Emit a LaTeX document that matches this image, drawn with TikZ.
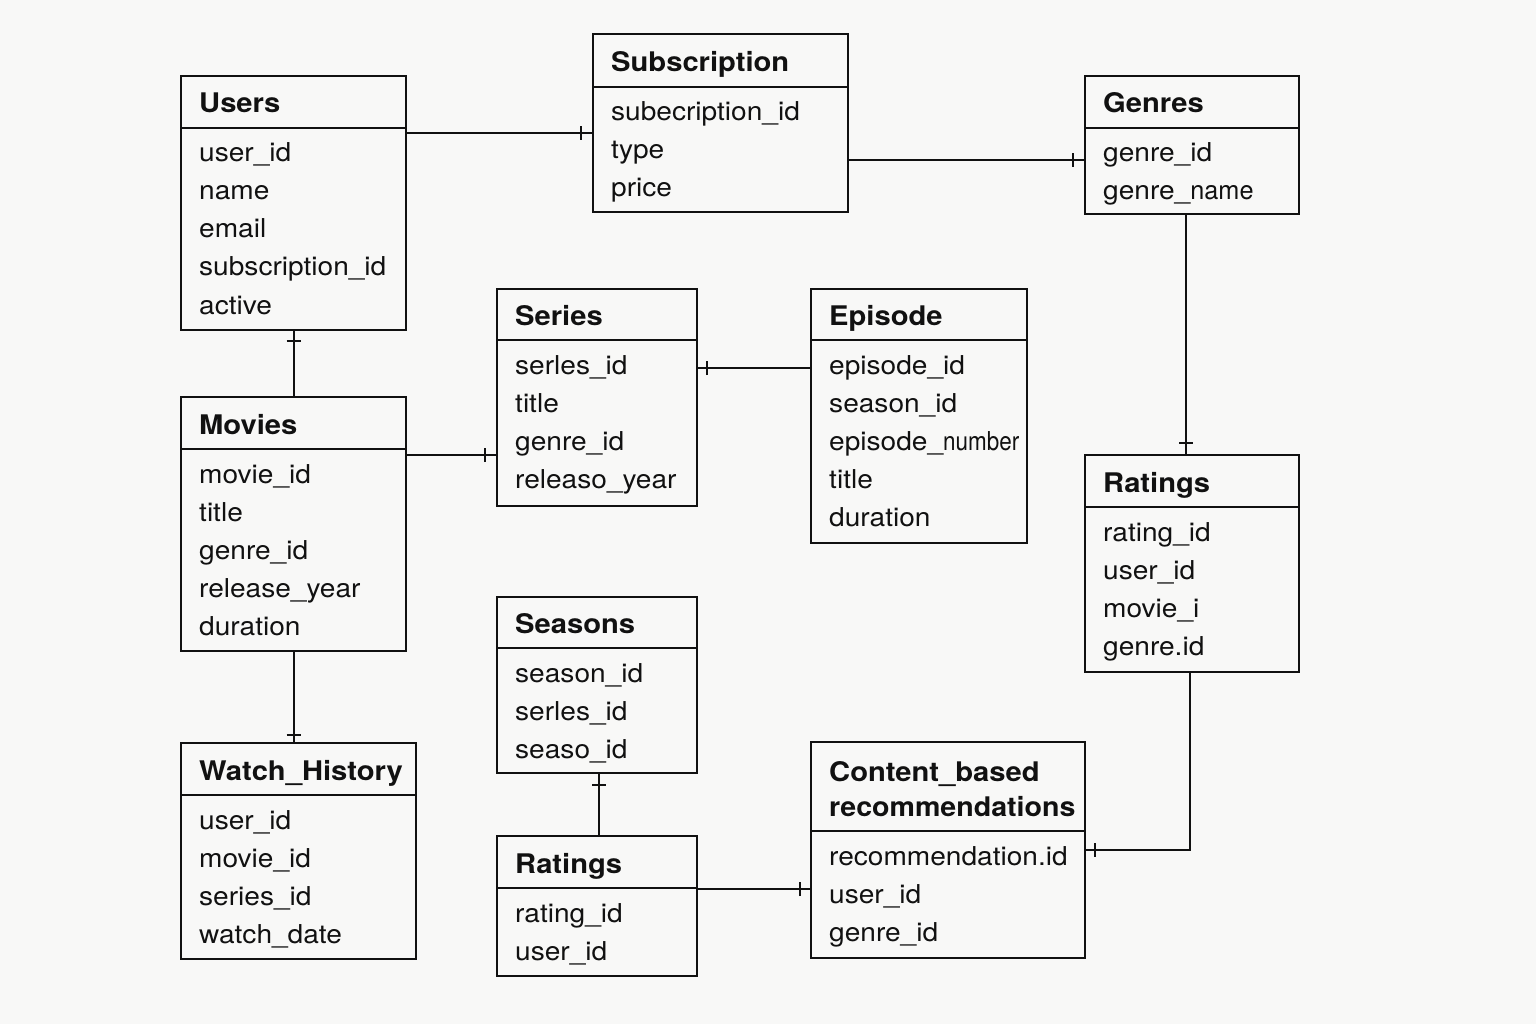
\documentclass[tikz,border=0pt]{standalone}
\usepackage{fontspec}
\setmainfont{TeX Gyre Heros}[FakeStretch=1.08]
\usetikzlibrary{decorations.markings,calc}
\definecolor{bgc}{HTML}{F8F8F7}
\definecolor{ink}{HTML}{111111}
\tikzset{
  box/.style={draw=ink, line width=2.4pt, outer sep=0pt, inner sep=0pt, anchor=north west},
  sep/.style={draw=ink, line width=2.2pt},
  ttl/.style={anchor=base west, inner sep=0pt, font=\fontsize{27}{30}\selectfont\bfseries, text=ink},
  fld/.style={anchor=base west, inner sep=0pt, font=\fontsize{26}{30}\selectfont, text=ink},
  conn/.style={draw=ink, line width=2pt},
  tk/.style={postaction={decorate,decoration={markings,mark=at position #1 with {\draw[line width=1.8pt,draw=ink] (0,-7pt) -- (0,7pt);}}}}
}
% \erbox{name}{x1}{y1}{x2}{y2}{divider y}{title}{fields}
\newcommand\erbox[8]{%
  \node[box, minimum width={(#4-#2)*1pt}, minimum height={(#5-#3)*1pt}] (#1) at (#2,#3) {};
  \draw[sep] (#2,#6) -- (#4,#6);
  \node[ttl] (#1-t) at (#2+18,#6-15) {#7};
  \foreach \f [count=\i] in {#8} {
    \node[fld] (#1-f\i) at (#2+18,#6+34+38*\i-38) {\f};
  }
}
\begin{document}
\begin{tikzpicture}[x=1pt,y=-1pt]
\fill[bgc] (0,0) rectangle (1536,1024);
\useasboundingbox (0,0) rectangle (1536,1024);

\erbox{users}{181}{76}{406}{330}{128}{Users}{user\_id,name,email,subscription\_id,active}
\erbox{subs}{593}{34}{848}{212}{87}{Subscription}{subecription\_id,type,price}
\erbox{genres}{1085}{76}{1299}{214}{128}{Genres}{genre\_id,genre\_{\scalebox{0.9}[1]{name}}}
\erbox{series}{497}{289}{697}{506}{340}{Series}{serles\_id,title,genre\_id,releaso\_year}
\erbox{episode}{811}{289}{1027}{543}{340}{Episode}{episode\_id,season\_id,episode\_{\scalebox{0.8}[1]{number}},title,duration}
\erbox{movies}{181}{397}{406}{651}{449}{Movies}{movie\_id,title,genre\_id,release\_year,duration}
\erbox{ratr}{1085}{455}{1299}{672}{507}{Ratings}{rating\_id,user\_id,movie\_i,genre.id}
\erbox{seasons}{497}{597}{697}{773}{648}{Seasons}{season\_id,serles\_id,seaso\_id}
\erbox{watch}{181}{743}{416}{959}{795}{Watch\_History}{user\_id,movie\_id,series\_id,watch\_date}
\erbox{ratb}{497}{836}{697}{976}{888}{Ratings}{rating\_id,user\_id}
\erbox{content}{811}{742}{1085}{958}{831}{\scalebox{0.98}[1]{recommendations}}{recommendation.id,user\_id,genre\_id}
\node[ttl] (content-t0) at (829,781) {Content\_based};

% connectors
\draw[conn, tk=-12pt] (users.north east) ++(0,57) coordinate (c1) -- (c1 -| subs.west);
\draw[conn, tk=-12pt] (subs.north east) ++(0,126) coordinate (c2) -- (c2 -| genres.west);
\draw[conn, tk=-12pt] (genres.south) ++(-6,0) coordinate (c3) -- (c3 |- ratr.north);
\draw[conn, tk=11pt] (users.south) -- (movies.north);
\draw[conn, tk=-12pt] (movies.north east) ++(0,58) coordinate (c5) -- (c5 -| series.west);
\draw[conn, tk=10pt] (series.north east) ++(0,79) coordinate (c6) -- (c6 -| episode.west);
\draw[conn, tk=-8pt] (movies.south) -- (movies.south |- watch.north);
\draw[conn, tk=12pt] (seasons.south) ++(2,0) coordinate (c8) -- (c8 |- ratb.north);
\draw[conn, tk=-11pt] (ratb.north east) ++(0,53) coordinate (c9) -- (c9 -| content.west);
\path (ratr.south) ++(-2,0) coordinate (c10);
\path (content.north east) ++(0,108) coordinate (c11);
\draw[conn, tk=-10pt] (c10) |- (c11);
\end{tikzpicture}
\end{document}
